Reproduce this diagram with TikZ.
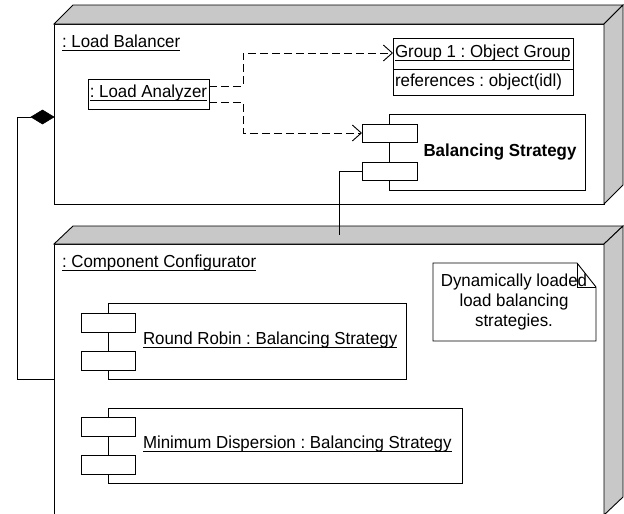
\documentclass[tikz,border=0pt]{standalone}
\usepackage{fontspec}
\setmainfont{Liberation Sans}[FakeStretch=0.97]
\usetikzlibrary{shapes.geometric,arrows.meta,calc}
\definecolor{facegray}{RGB}{200,200,200}
\newcommand{\ulmark}[1]{\setbox0\hbox{#1}\rlap{\rule[-3.2pt]{\wd0}{0.9pt}}\box0}
\frenchspacing
\begin{document}
\begin{tikzpicture}[x=1pt,y=-1pt,
  every node/.style={inner sep=0pt,outer sep=0pt,font=\fontsize{17.4}{20}\selectfont},
  box/.style={draw,line width=0.9pt,fill=white,anchor=north west},
  face/.style={draw,line width=0.9pt,fill=facegray},
  lbl/.style={anchor=west},
  dep/.style={draw,line width=0.9pt,dash pattern=on 8pt off 4pt,-{Straight Barb[length=9pt,width=16pt,line width=0.9pt]}},
  conn/.style={draw,line width=0.9pt}]
\useasboundingbox (0,0) rectangle (624,514);
% ---------- Load Balancer node
\node[box,minimum width=550pt,minimum height=180pt] (lb) at (54,24) {};
\draw[face] (lb.north west) -- ++(19,-19) -- ($(lb.north east)+(19,-19)$) -- (lb.north east) -- cycle;
\draw[face] (lb.north east) -- ++(19,-19) -- ($(lb.south east)+(19,-19)$) -- (lb.south east) -- cycle;
\node[lbl] (lbt) at (62,43) {\ulmark{: Load Balancer}};
% Load Analyzer
\node[box,minimum width=121pt,minimum height=30pt] (la) at (88,79) {};
\node (lat) at ($(la.center)+(0,-1)$) {\ulmark{: Load Analyzer}};
\coordinate (la1) at ($(la.east)+(0,-8)$);
\coordinate (la2) at ($(la.east)+(0,8)$);
% Group 1 object
\node[box,minimum width=180pt,minimum height=57pt] (grp) at (393,38) {};
\draw[line width=0.9pt] ($(grp.north west)+(0,31)$) -- ($(grp.north east)+(0,31)$);
\node[lbl] (gt) at (395,53) {\ulmark{Group 1 : Object Group}};
\node[lbl] (ga) at (395,82) {references : object(idl)};
% Balancing Strategy component
\node[box,minimum width=196pt,minimum height=76pt] (bs) at (389,114) {};
\node[box,minimum width=55pt,minimum height=18pt] (p1) at (362,124) {};
\node[box,minimum width=55pt,minimum height=18pt] (p2) at (362,162) {};
\node (bst) at (500,152) {\bfseries Balancing Strategy};
% dependencies
\draw[dep] (la1) -- ++(34,0) |- (grp.west |- gt.west);
\draw[dep] (la2) -- ++(34,0) |- (p1.west);
% ---------- Component Configurator node
\node[box,minimum width=550pt,minimum height=271pt] (cc) at (54,244) {};
\draw[face] (cc.north west) -- ++(19,-18) -- ($(cc.north east)+(19,-18)$) -- (cc.north east) -- cycle;
\draw[face] (cc.north east) -- ++(19,-18) -- ($(cc.south east)+(19,-18)$) -- (cc.south east) -- cycle;
\node[lbl] (cct) at (62,263) {\ulmark{: Component Configurator}};
% connector between nodes
\coordinate (cend) at (339,235);
\draw[conn] (p2.west) -| (cend);
% composition
\node[diamond,draw,fill=black,line width=0.6pt,minimum width=23pt,minimum height=14pt,anchor=east] (dia) at (lb.west |- 0,117) {};
\draw[conn] (dia.west) -- ++(-14,0) |- (cc.west);
% Round Robin component
\node[box,minimum width=298pt,minimum height=76pt] (rr) at (108,303) {};
\node[box,minimum width=54pt,minimum height=19pt] (rr1) at (81,313) {};
\node[box,minimum width=54pt,minimum height=19pt] (rr2) at (81,351) {};
\node[lbl] (rrt) at (143,340) {\ulmark{Round Robin : Balancing Strategy}};
% Minimum Dispersion component
\node[box,minimum width=354pt,minimum height=75pt] (md) at (108,408) {};
\node[box,minimum width=54pt,minimum height=19pt] (md1) at (81,417) {};
\node[box,minimum width=54pt,minimum height=19pt] (md2) at (81,455) {};
\node[lbl] (mdt) at (143,444) {\ulmark{Minimum Dispersion : Balancing Strategy}};
% Note
\draw[line width=0.9pt,fill=white] (433,263) -- (577,263) -- (596,287) -- (596,341) -- (433,341) -- cycle;
\draw[line width=0.9pt] (577,263) -- (577,287) -- (596,287);
\node[align=center] (note) at (514,302) {Dynamically loaded\\load balancing\\strategies.};
\end{tikzpicture}
\end{document}
